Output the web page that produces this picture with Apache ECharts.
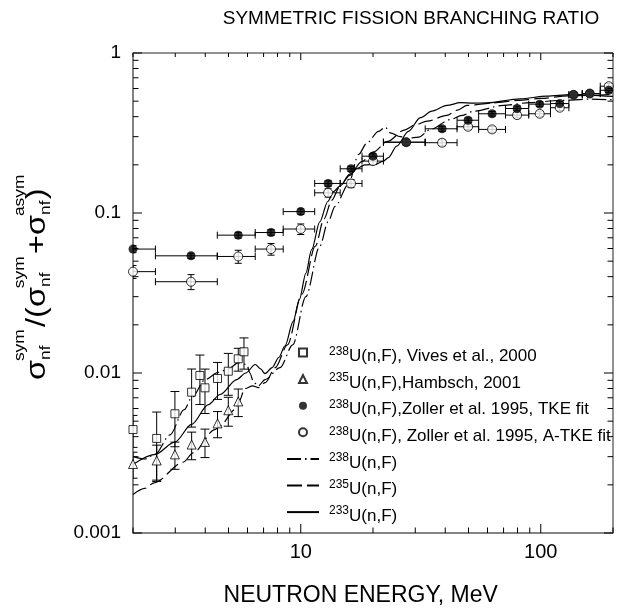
<!DOCTYPE html>
<html><head><meta charset="utf-8">
<script src="https://cdn.jsdelivr.net/npm/echarts@6.0.0/dist/echarts.min.js"></script>
<style>html,body{margin:0;padding:0;background:#fff}#c{width:629px;height:608px}</style>
</head><body><div id="c"></div>
<script>
// ---------- axis ticks / labels ----------
const xTickLabels = ['10', '100'];
const yTickLabels = ['0.001', '0.01', '0.1', '1'];
const xMajorTicks = [10, 100];
const xMinorTicks = [2, 3, 4, 5, 6, 7, 8, 9, 20, 30, 40, 50, 60, 70, 80, 90, 200];
const yMajorTicks = [0.001, 0.01, 0.1, 1];
const yMinorTicks = [0.002, 0.003, 0.004, 0.005, 0.006, 0.007, 0.008, 0.009,
  0.02, 0.03, 0.04, 0.05, 0.06, 0.07, 0.08, 0.09,
  0.2, 0.3, 0.4, 0.5, 0.6, 0.7, 0.8, 0.9];

// ---------- 238U(n,F) Vives et al., 2000 (open squares) ----------
const vivesE = [2.0, 2.51, 2.99, 3.51, 3.80, 3.99, 4.50, 4.99, 5.49, 5.80];
const vivesV = [0.00443, 0.0039, 0.00556, 0.00759, 0.00965, 0.00808, 0.00924, 0.01026, 0.01227, 0.01357];
const vivesErr = [0.0010, 0.0018, 0.0021, 0.0030, 0.0033, 0.0025, 0.0024, 0.0030, 0.0020, 0.0030];

// ---------- 235U(n,F) Hambsch, 2001 (open triangles) ----------
const hambE = [2.0, 2.51, 2.99, 3.51, 3.99, 4.50, 4.99, 5.49];
const hambV = [0.0027, 0.00284, 0.0031, 0.00357, 0.00371, 0.00484, 0.00585, 0.00664];
const hambErr = [0.0005, 0.0007, 0.0006, 0.0007, 0.00075, 0.0009, 0.0012, 0.0013];

// ---------- 238U(n,F) Zoller et al. 1995 ----------
const zollerE = [2.0, 3.49, 5.49, 7.52, 10, 13, 16.2, 20, 27.5, 38.8, 49.8, 62.7, 79.7, 99, 120, 137, 160, 192];
const zollerELo = [1.6, 2.48, 4.49, 6.46, 8.45, 11.43, 14.6, 18, 22.1, 33, 44.8, 55.1, 71.3, 89.1, 109.8, 131, 149, 177];
const zollerEHi = [2.48, 4.49, 6.46, 8.45, 11.43, 14.6, 18, 22.1, 33, 44.8, 55.1, 71.3, 89.1, 109.8, 131, 149, 177, 215];
const tkeV = [0.0595, 0.054, 0.0727, 0.0755, 0.102, 0.153, 0.189, 0.2265, 0.277, 0.336, 0.38, 0.417, 0.45, 0.479, 0.483, 0.548, 0.558, 0.585];
const tkeErr = [0.003, 0.002, 0.003, 0.003, 0.004, 0.006, 0.007, 0.008, 0.010, 0.012, 0.013, 0.014, 0.015, 0.016, 0.016, 0.018, 0.018, 0.020];
const atkeV = [0.043, 0.0372, 0.0535, 0.0595, 0.0794, 0.1337, 0.153, 0.211, 0.277, 0.275, 0.346, 0.333, 0.409, 0.417, 0.455, 0.548, 0.558, 0.62];
const atkeErr = [0.004, 0.004, 0.005, 0.005, 0.006, 0.008, 0.009, 0.010, 0.012, 0.012, 0.014, 0.014, 0.016, 0.016, 0.018, 0.020, 0.020, 0.025];

// ---------- calculated curves ----------
const u238E = [2.0, 2.24, 2.47, 2.85, 3.27, 3.51, 4.0, 4.53, 5.0, 5.5, 5.96, 6.14, 6.35, 6.65, 7.1, 8.2, 9.26, 10.5, 12.0, 13.0, 13.9, 15.8, 17.4, 18.9, 21.1, 22.5, 23.6, 26.0, 28.0, 31.0, 34.7, 42.0, 47.0, 52.5, 70.0, 90.0, 120, 160, 200];
const u238V = [0.0030, 0.0029, 0.0031, 0.0041, 0.0059, 0.0070, 0.0091, 0.0101, 0.0106, 0.0116, 0.0113, 0.0100, 0.0088, 0.0083, 0.0091, 0.0108, 0.015, 0.030, 0.062, 0.088, 0.11, 0.151, 0.232, 0.275, 0.324, 0.344, 0.317, 0.300, 0.293, 0.298, 0.333, 0.384, 0.407, 0.433, 0.47, 0.49, 0.505, 0.515, 0.51];
const u235E = [2.0, 2.24, 2.45, 3.24, 3.56, 4.39, 4.6, 5.32, 5.5, 5.86, 6.3, 6.67, 7.11, 7.83, 8.8, 10.1, 11.5, 12.5, 13.46, 14.5, 16.0, 18.0, 20.0, 23.0, 27.0, 30.0, 33.6, 40.6, 45.0, 49.3, 63.7, 80, 100, 130, 200];
const u235V = [0.00174, 0.0019, 0.00206, 0.00277, 0.00317, 0.00443, 0.00465, 0.0059, 0.00651, 0.0080, 0.0083, 0.0081, 0.0087, 0.0108, 0.015, 0.031, 0.062, 0.092, 0.12, 0.145, 0.175, 0.21, 0.24, 0.28, 0.33, 0.355, 0.375, 0.407, 0.44, 0.47, 0.488, 0.505, 0.52, 0.54, 0.55];
const u233E = [2.0, 2.47, 2.99, 3.51, 4.12, 4.61, 5.41, 5.9, 6.46, 6.8, 7.1, 7.6, 8.1, 8.6, 9.3, 9.87, 10.5, 11.1, 12.0, 12.96, 13.7, 14.6, 16.0, 17.2, 18.5, 20.4, 22.0, 23.2, 25.1, 28.1, 31.5, 35.2, 40.6, 46.2, 52.5, 59.7, 82, 106, 133, 200];
const u233V = [0.00268, 0.0031, 0.0037, 0.00477, 0.00635, 0.00734, 0.0091, 0.0100, 0.0113, 0.0106, 0.0099, 0.0108, 0.0125, 0.0148, 0.021, 0.0288, 0.042, 0.059, 0.088, 0.118, 0.136, 0.148, 0.172, 0.19, 0.2, 0.201, 0.21, 0.222, 0.262, 0.324, 0.394, 0.433, 0.47, 0.489, 0.486, 0.488, 0.517, 0.537, 0.55, 0.535];

// ---------- legend ----------
const legendIso = ['238', '235', '238', '238', '238', '235', '233'];
const legendText = ['U(n,F), Vives et al., 2000', 'U(n,F),Hambsch, 2001', 'U(n,F),Zoller et al. 1995, TKE fit',
  'U(n,F), Zoller et al. 1995, A-TKE fit', 'U(n,F)', 'U(n,F)', 'U(n,F)'];
const legendNames = legendIso.map((s, i) => s + legendText[i]);

const X_MIN = 2, X_MAX = 200, Y_MIN = 0.001, Y_MAX = 1;
const FONT = '"Liberation Sans", Arial, Helvetica, sans-serif';

function zip(a, b) { return a.map((v, i) => [v, b[i]]); }

function errorSeries(xs, ys, xlo, xhi, yerr, capH, capV) {
  const data = xs.map((x, i) => [x, ys[i], xlo ? xlo[i] : x, xhi ? xhi[i] : x,
    Math.max(ys[i] - yerr[i], 1e-6), ys[i] + yerr[i]]);
  return {
    type: 'custom', silent: true, clip: true, z: 3,
    encode: { x: 0, y: 1 },
    renderItem(params, api) {
      const x = api.value(0), y = api.value(1);
      const a = api.coord([api.value(2), y]), b = api.coord([api.value(3), y]);
      const c = api.coord([x, api.value(4)]), d = api.coord([x, api.value(5)]);
      const st = { stroke: '#000', lineWidth: 1 };
      const ch = [];
      if (b[0] - a[0] > 0.5) {
        ch.push({ type: 'line', shape: { x1: a[0], y1: a[1], x2: b[0], y2: b[1] }, style: st });
        ch.push({ type: 'line', shape: { x1: a[0], y1: a[1] - capH, x2: a[0], y2: a[1] + capH }, style: st });
        ch.push({ type: 'line', shape: { x1: b[0], y1: b[1] - capH, x2: b[0], y2: b[1] + capH }, style: st });
      }
      if (c[1] - d[1] > 0.5) {
        ch.push({ type: 'line', shape: { x1: c[0], y1: c[1], x2: d[0], y2: d[1] }, style: st });
        ch.push({ type: 'line', shape: { x1: c[0] - capV, y1: c[1], x2: c[0] + capV, y2: c[1] }, style: st });
        ch.push({ type: 'line', shape: { x1: d[0] - capV, y1: d[1], x2: d[0] + capV, y2: d[1] }, style: st });
      }
      return { type: 'group', children: ch };
    },
    data
  };
}

function tickSeries() {
  const data = [];
  xMajorTicks.forEach(v => data.push([v, Y_MIN, 0, 1]));
  xMinorTicks.forEach(v => data.push([v, Y_MIN, 0, 0]));
  yMajorTicks.forEach(v => data.push([X_MIN, v, 1, 1]));
  yMinorTicks.forEach(v => data.push([X_MIN, v, 1, 0]));
  return {
    type: 'custom', silent: true, z: 10,
    encode: { x: 0, y: 1 },
    renderItem(params, api) {
      const kind = api.value(2), major = api.value(3);
      const st = { stroke: '#000', lineWidth: 1 };
      if (kind === 0) {
        const v = api.value(0);
        const b = api.coord([v, Y_MIN]), t = api.coord([v, Y_MAX]);
        const lb = major ? 9 : 5.5, lt = major ? 7 : 4;
        return { type: 'group', children: [
          { type: 'line', shape: { x1: b[0], y1: b[1], x2: b[0], y2: b[1] - lb }, style: st },
          { type: 'line', shape: { x1: t[0], y1: t[1], x2: t[0], y2: t[1] + lt }, style: st }] };
      } else {
        const v = api.value(1);
        const l = api.coord([X_MIN, v]), r = api.coord([X_MAX, v]);
        const len = major ? 9 : 5.5;
        return { type: 'group', children: [
          { type: 'line', shape: { x1: l[0], y1: l[1], x2: l[0] + len, y2: l[1] }, style: st },
          { type: 'line', shape: { x1: r[0], y1: r[1], x2: r[0] - len, y2: r[1] }, style: st }] };
      }
    },
    data
  };
}

// rotated y-axis title with stacked sub/superscripts
function yTitle() {
  const ctx = document.createElement('canvas').getContext('2d');
  const MAIN = 28, SCR = 15;
  const w = (t, s) => { ctx.font = s + 'px ' + FONT; return ctx.measureText(t).width; };
  const parts = [['m', 'σ'], ['s', 'nf', 'sym'], ['m', '/('], ['m', 'σ'], ['s', 'nf', 'sym'], ['m', '+'], ['m', 'σ'], ['s', 'nf', 'asym'], ['m', ')']];
  let cur = 0;
  const ch = [];
  parts.forEach((p, i) => {
    if (p[0] === 'm') {
      ch.push({ type: 'text', x: cur, y: 0, style: { text: p[1], fontSize: MAIN, fontFamily: FONT, fill: '#000', align: 'left', verticalAlign: 'middle' } });
      cur += w(p[1], MAIN);
    } else {
      ch.push({ type: 'text', x: cur, y: 8, style: { text: p[1], fontSize: SCR, fontFamily: FONT, fill: '#000', align: 'left', verticalAlign: 'middle' } });
      ch.push({ type: 'text', x: cur - 1, y: -17.5, style: { text: p[2], fontSize: SCR, fontFamily: FONT, fill: '#000', align: 'left', verticalAlign: 'middle' } });
      const last = i === parts.length - 2;
      cur += last ? w(p[1], SCR) + 1 : Math.max(w(p[1], SCR), w(p[2], SCR)) + 1;
    }
  });
  return { type: 'group', x: 37.5, y: 380, rotation: Math.PI / 2, scaleX: 1.16, children: ch, silent: true };
}

const chart = echarts.init(document.getElementById('c'), null, { renderer: 'canvas' });

const openStyle = { color: '#fff', borderColor: '#000', borderWidth: 1 };
const noSymbolStyle = { color: 'rgba(0,0,0,0)', borderColor: 'rgba(0,0,0,0)', borderWidth: 0 };
const legendIcons = ['path://M0,0H8V8H0Z', 'path://M4,0L8,8H0Z', 'circle', 'circle'];

const option = {
  animation: false,
  backgroundColor: '#fff',
  grid: { left: 133, right: 16, top: 53, bottom: 75, show: true, borderColor: '#222', borderWidth: 1, backgroundColor: 'transparent' },
  xAxis: {
    type: 'log', logBase: 10, min: X_MIN, max: X_MAX,
    axisLine: { show: true, lineStyle: { color: '#808080', width: 1.5 } },
    axisTick: { show: false }, splitLine: { show: false }, minorTick: { show: false },
    axisLabel: {
      fontSize: 20, fontFamily: FONT, color: '#000', margin: 9, showMinLabel: false, showMaxLabel: false,
      formatter: v => { const i = xMajorTicks.findIndex(t => Math.abs(Math.log10(t) - Math.log10(v)) < 1e-6); return i >= 0 ? xTickLabels[i] : ''; }
    }
  },
  yAxis: {
    type: 'log', logBase: 10, min: Y_MIN, max: Y_MAX,
    axisLine: { show: true, lineStyle: { color: '#808080', width: 1.5 } },
    axisTick: { show: false }, splitLine: { show: false }, minorTick: { show: false },
    axisLabel: {
      fontSize: 19, fontFamily: FONT, color: '#000', margin: 12,
      formatter: v => { const i = yMajorTicks.findIndex(t => Math.abs(Math.log10(t) - Math.log10(v)) < 1e-6); return i >= 0 ? yTickLabels[i] : ''; }
    }
  },
  legend: {
    orient: 'vertical', left: 286, top: 340, padding: 0, itemGap: 1.6,
    itemWidth: 32, itemHeight: 8, selectedMode: false, symbolKeepAspect: true,
    data: legendNames.map((n, i) => i >= 4 ? { name: n, itemStyle: noSymbolStyle } : { name: n, icon: legendIcons[i] }),
    formatter: name => { const i = legendNames.indexOf(name); return '{s|' + legendIso[i] + '}{t|' + legendText[i] + '}'; },
    textStyle: {
      color: '#000', fontFamily: FONT,
      rich: {
        s: { fontSize: 12, lineHeight: 10, verticalAlign: 'top', padding: [0, 0, 0, 5], fontFamily: FONT, color: '#000' },
        t: { fontSize: 17, lineHeight: 14, padding: [8, 0, 0, 0], fontFamily: FONT, color: '#000' }
      }
    }
  },
  graphic: [
    { type: 'text', x: 411, y: 18.5, silent: true, style: { text: 'SYMMETRIC FISSION BRANCHING RATIO', fontSize: 19, fontFamily: FONT, fill: '#000', align: 'center', verticalAlign: 'middle' } },
    { type: 'text', x: 360.7, y: 596, silent: true, style: { text: 'NEUTRON ENERGY, MeV', fontSize: 23, fontFamily: FONT, fill: '#000', align: 'center', verticalAlign: 'middle' } },
    yTitle()
  ],
  series: [
    { name: legendNames[4], type: 'line', data: zip(u238E, u238V), symbol: 'none', smooth: 0.3, smoothMonotone: 'x', z: 2,
      lineStyle: { color: '#000', width: 1.2, type: [14, 4, 1.5, 4] }, itemStyle: noSymbolStyle },
    { name: legendNames[5], type: 'line', data: zip(u235E, u235V), symbol: 'none', smooth: 0.3, smoothMonotone: 'x', z: 2,
      lineStyle: { color: '#000', width: 1.2, type: [15, 5] }, itemStyle: noSymbolStyle },
    { name: legendNames[6], type: 'line', data: zip(u233E, u233V), symbol: 'none', smooth: 0.3, smoothMonotone: 'x', z: 2,
      lineStyle: { color: '#000', width: 1.2, type: 'solid' }, itemStyle: noSymbolStyle },
    errorSeries(zollerE, atkeV, zollerELo, zollerEHi, atkeErr, 3.5, 3.5),
    errorSeries(zollerE, tkeV, zollerELo, zollerEHi, tkeErr, 3.5, 3.5),
    errorSeries(vivesE, vivesV, null, null, vivesErr, 3.5, 4.5),
    errorSeries(hambE, hambV, null, null, hambErr, 3.5, 4.5),
    { name: legendNames[3], type: 'scatter', data: zip(zollerE, atkeV), symbol: 'circle', symbolSize: 9, z: 4, itemStyle: openStyle },
    { name: legendNames[2], type: 'scatter', data: zip(zollerE, tkeV), symbol: 'circle', symbolSize: 9, z: 5, itemStyle: { color: '#000' } },
    { name: legendNames[0], type: 'scatter', data: zip(vivesE, vivesV), symbol: 'rect', symbolSize: 8, z: 5, itemStyle: openStyle },
    { name: legendNames[1], type: 'scatter', data: zip(hambE, hambV), symbol: 'triangle', symbolSize: 9, z: 5, itemStyle: openStyle },
    tickSeries()
  ]
};
chart.setOption(option);
</script>
</body></html>
